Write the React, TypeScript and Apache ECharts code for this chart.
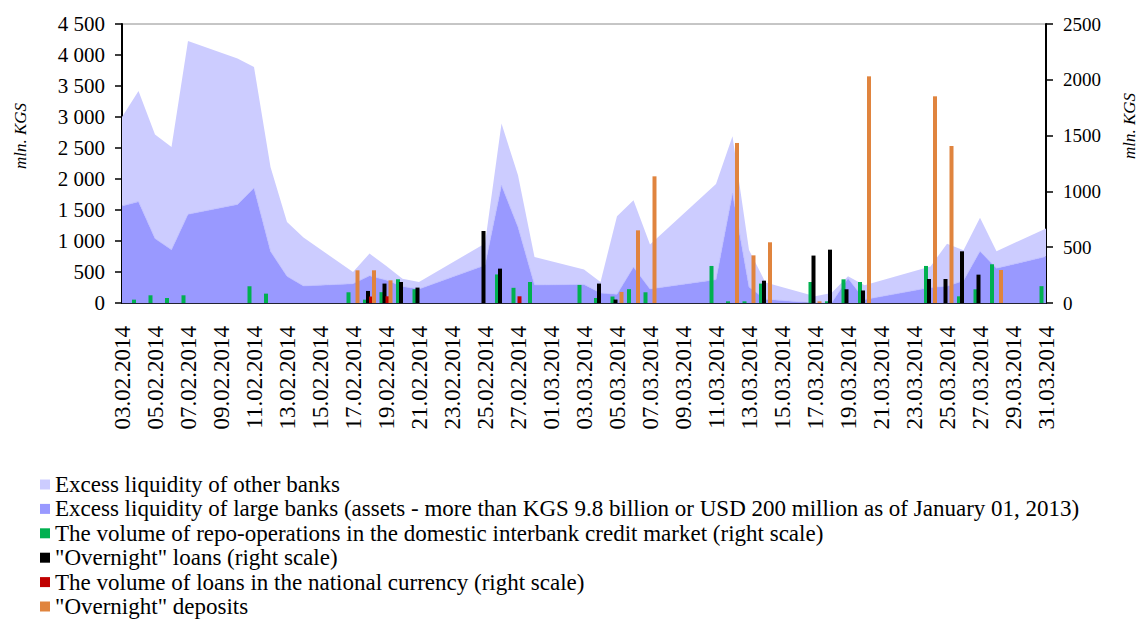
import React, { useEffect, useRef } from 'react';
import * as echarts from 'echarts';

const dates = [
  '03.02.2014', '04.02.2014', '05.02.2014', '06.02.2014', '07.02.2014', '08.02.2014', '09.02.2014',
  '10.02.2014', '11.02.2014', '12.02.2014', '13.02.2014', '14.02.2014', '15.02.2014', '16.02.2014',
  '17.02.2014', '18.02.2014', '19.02.2014', '20.02.2014', '21.02.2014', '22.02.2014', '23.02.2014',
  '24.02.2014', '25.02.2014', '26.02.2014', '27.02.2014', '28.02.2014', '01.03.2014', '02.03.2014',
  '03.03.2014', '04.03.2014', '05.03.2014', '06.03.2014', '07.03.2014', '08.03.2014', '09.03.2014',
  '10.03.2014', '11.03.2014', '12.03.2014', '13.03.2014', '14.03.2014', '15.03.2014', '16.03.2014',
  '17.03.2014', '18.03.2014', '19.03.2014', '20.03.2014', '21.03.2014', '22.03.2014', '23.03.2014',
  '24.03.2014', '25.03.2014', '26.03.2014', '27.03.2014', '28.03.2014', '29.03.2014', '30.03.2014',
  '31.03.2014',
];

// Excess liquidity of large banks (left scale, mln. KGS); null = no data (weekend / holiday)
const largeBanks = [
  1565, 1635, 1040, 860, 1430, null, null,
  1590, 1855, 835, 430, 275, null, null,
  310, 440, 370, 265, 225, null, null,
  null, 610, 1900, 1225, 290, null, null,
  300, 160, 140, 580, 225, null, null,
  null, 377, 1770, 258, 60, null, null,
  0, 0, 400, 55, null, null, null,
  250, 270, 360, 836, 560, null, null,
  750,
];

// Excess liquidity of other banks (left scale, stacked on large banks)
const otherBanks = [
  1435, 1785, 1676, 1656, 2796, null, null,
  2352, 1952, 1359, 877, 780, null, null,
  190, 357, 230, 125, 114, null, null,
  null, 350, 994, 835, 452, null, null,
  239, 179, 1258, 1077, 717, null, null,
  null, 1543, 920, 597, 270, null, null,
  110, 160, 30, 230, null, null, null,
  340, 685, 490, 541, 276, null, null,
  450,
];

// Right scale
const repoVolume = [
  null, 30, 69, 45, 69, null, null,
  null, 150, 84, null, null, null, null,
  96, 30, 97, 213, 123, null, null,
  null, null, 256, 136, 188, null, null,
  162, 45, 58, 124, 96, null, null,
  null, 332, 15, 15, 174, null, null,
  188, 15, 212, 188, null, null, null,
  332, null, 60, 123, 347, null, null,
  151,
];

const overnightLoans = [
  null, null, null, null, null, null, null,
  null, null, null, null, null, null, null,
  null, 108, 174, 188, 138, null, null,
  null, 645, 308, null, null, null, null,
  null, 174, 31, null, null, null, null,
  null, null, null, null, 200, null, null,
  425, 478, 123, 112, null, null, null,
  215, 215, 463, 254, null, null, null,
  null,
];

const nationalCurrencyLoans = [
  null, null, null, null, null, null, null,
  null, null, null, null, null, null, null,
  null, 58, 60, null, null, null, null,
  null, null, null, 60, null, null, null,
  null, null, null, null, null, null, null,
  null, null, null, null, null, null, null,
  null, null, null, null, null, null, null,
  null, null, null, null, null, null, null,
  null,
];

const overnightDeposits = [
  null, null, null, null, null, null, null,
  null, null, null, null, null, null, null,
  293, 293, 203, null, null, null, null,
  null, null, null, null, null, null, null,
  null, null, 99, 651, 1135, null, null,
  null, null, 1434, 427, 544, null, null,
  15, null, null, 2031, null, null, null,
  1852, 1407, null, null, 296, null, null,
  null,
];

const names = {
  other: 'Excess liquidity of other banks',
  large: 'Excess liquidity of large banks (assets - more than KGS 9.8 billion or USD 200 million as of January 01, 2013)',
  repo: 'The volume of repo-operations in the domestic interbank credit market (right scale)',
  loans: '"Overnight" loans (right scale)',
  national: 'The volume of loans in the national currency (right scale)',
  deposits: '"Overnight" deposits',
};

const FONT = "'Liberation Serif', 'Times New Roman', serif";

function leftFmt(v: number): string {
  if (v >= 1000) {
    const th = Math.floor(v / 1000);
    const rest = String(v % 1000).padStart(3, '0');
    return th + ' ' + rest;
  }
  return String(v);
}

// days with data only, so that the stacked areas connect straight across gaps
function toPairs(arr: (number | null)[]) {
  const out: [string, number][] = [];
  arr.forEach((v, i) => {
    if (v !== null && v !== undefined) out.push([dates[i], v]);
  });
  return out;
}

export default function App() {
  const ref = useRef<HTMLDivElement>(null);

  useEffect(() => {
    if (!ref.current) return;
    const chart = echarts.init(ref.current, null, { renderer: 'svg' });
    const barCommon = {
      type: 'bar' as const,
      yAxisIndex: 1,
      barWidth: 4,
      barGap: '-25%',
    };
    chart.setOption({
      animation: false,
      backgroundColor: '#ffffff',
      textStyle: { fontFamily: FONT },
      grid: {
        left: 122,
        right: 91,
        top: 24,
        bottom: 316,
        show: true,
        borderColor: '#8c8c8c',
        borderWidth: 1,
        backgroundColor: '#ffffff',
      },
      legend: {
        orient: 'vertical',
        left: 40,
        top: 473,
        height: 170,
        width: 1100,
        padding: 0,
        itemWidth: 10,
        itemHeight: 10,
        itemGap: 1.4,
        icon: 'rect',
        selectedMode: false,
        textStyle: { fontFamily: FONT, fontSize: 23, color: '#000' },
        data: [names.other, names.large, names.repo, names.loans, names.national, names.deposits],
      },
      xAxis: {
        type: 'category',
        data: dates,
        boundaryGap: false,
        axisLine: { show: true, lineStyle: { color: '#222233', width: 2 } },
        axisTick: { show: false },
        axisLabel: {
          interval: 1,
          rotate: 90,
          margin: 23,
          fontFamily: FONT,
          fontSize: 23,
          color: '#000',
        },
        splitLine: { show: false },
      },
      yAxis: [
        {
          type: 'value',
          min: 0,
          max: 4500,
          interval: 500,
          axisLine: { show: true, lineStyle: { color: '#000', width: 2 } },
          axisTick: { show: true, inside: false, length: 7, lineStyle: { color: '#000', width: 1.5 } },
          axisLabel: { fontFamily: FONT, fontSize: 21, color: '#000', margin: 17, formatter: leftFmt },
          splitLine: { show: false },
        },
        {
          type: 'value',
          min: 0,
          max: 2500,
          interval: 500,
          position: 'right',
          axisLine: { show: true, lineStyle: { color: '#000', width: 2 } },
          axisTick: { show: true, inside: false, length: 7, lineStyle: { color: '#000', width: 1.5 } },
          axisLabel: {
            fontFamily: FONT,
            fontSize: 19,
            color: '#000',
            margin: 17,
            formatter: (v: number) => String(v),
          },
          splitLine: { show: false },
        },
      ],
      graphic: [
        {
          type: 'text',
          x: 20,
          y: 136,
          rotation: Math.PI / 2,
          style: {
            text: 'mln. KGS',
            font: "italic 17px 'Liberation Serif', 'Times New Roman', serif",
            fill: '#000',
            align: 'center',
            verticalAlign: 'middle',
          },
        },
        {
          type: 'text',
          x: 1129,
          y: 126,
          rotation: Math.PI / 2,
          style: {
            text: 'mln. KGS',
            font: "italic 17px 'Liberation Serif', 'Times New Roman', serif",
            fill: '#000',
            align: 'center',
            verticalAlign: 'middle',
          },
        },
      ],
      series: [
        {
          name: names.large,
          type: 'line',
          stack: 'liq',
          stackStrategy: 'all',
          yAxisIndex: 0,
          data: toPairs(largeBanks),
          showSymbol: false,
          symbol: 'none',
          itemStyle: { color: '#9999ff' },
          lineStyle: { width: 0.6, color: '#b4b4ff' },
          areaStyle: { color: '#9999ff', opacity: 1 },
          z: 1,
        },
        {
          name: names.other,
          type: 'line',
          stack: 'liq',
          stackStrategy: 'all',
          yAxisIndex: 0,
          data: toPairs(otherBanks),
          showSymbol: false,
          symbol: 'none',
          itemStyle: { color: '#ccccff' },
          lineStyle: { width: 0 },
          areaStyle: { color: '#ccccff', opacity: 1 },
          z: 1,
        },
        { ...barCommon, name: names.repo, data: repoVolume, itemStyle: { color: '#00b050' }, z: 3 },
        { ...barCommon, name: names.loans, data: overnightLoans, itemStyle: { color: '#000000' }, z: 3 },
        { ...barCommon, name: names.national, data: nationalCurrencyLoans, itemStyle: { color: '#c00000' }, z: 3 },
        { ...barCommon, name: names.deposits, data: overnightDeposits, itemStyle: { color: '#e0843e' }, z: 3 },
      ],
    });
    return () => chart.dispose();
  }, []);

  return (
    <div
      ref={ref}
      style={{ position: 'fixed', left: 0, top: 0, width: 1137, height: 619, background: '#fff' }}
    />
  );
}
